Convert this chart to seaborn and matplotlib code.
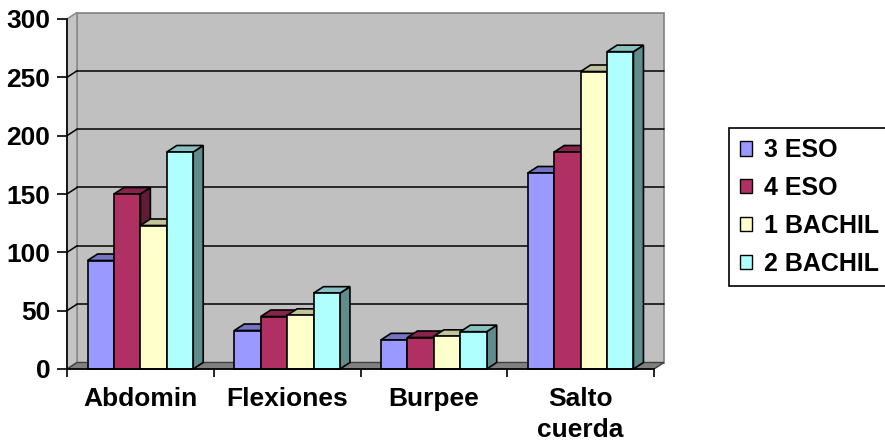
import matplotlib
matplotlib.use("Agg")
import matplotlib.pyplot as plt
import seaborn as sns
import pandas as pd
import numpy as np
from matplotlib.patches import Polygon, Patch, Rectangle

# Test results per course
categories = ["Abdomin", "Flexiones", "Burpee", "Salto\ncuerda"]
groups = ["3 ESO", "4 ESO", "1 BACHIL", "2 BACHIL"]
eso3 = [93, 33, 25, 168]
eso4 = [150, 45, 27, 186]
bach1 = [123, 46, 28, 255]
bach2 = [186, 65, 32, 272]
y_ticks = [0, 50, 100, 150, 200, 250, 300]
colors = ["#9999FF", "#B03064", "#FFFFCC", "#B0FFFF"]

df = pd.DataFrame({
    "prueba": categories * 4,
    "curso": np.repeat(groups, len(categories)),
    "valor": eso3 + eso4 + bach1 + bach2,
})

sns.set_theme(style="white")
plt.rcParams["font.family"] = ["Liberation Sans", "DejaVu Sans"]
plt.rcParams["font.weight"] = "bold"

W, H = 885, 443
fig = plt.figure(figsize=(W / 100, H / 100), dpi=100)
left, right, bottom, top = 67 / W, 654 / W, (H - 369) / H, (H - 19) / H
ax = fig.add_axes([left, bottom, right - left, top - bottom])

sns.barplot(data=df, x="prueba", y="valor", hue="curso", order=categories,
            hue_order=groups, palette=colors, saturation=1, width=0.72,
            edgecolor="black", linewidth=1.2, ax=ax, legend=False)

ax.set_xlim(-0.5, 3.5)
ax.set_ylim(0, 300)
ax.set_facecolor("none")
ax.set_xlabel("")
ax.set_ylabel("")

# depth of the 3-D box, in data units
ax_w_px = (right - left) * W
ax_h_px = (top - bottom) * H
dx = 10 / (ax_w_px / 4.0)
dy = 6.5 / (ax_h_px / 300.0)
x0, x1 = -0.5, 3.5

# walls and floor
back = Polygon([(x0 + dx, dy), (x1 + dx, dy), (x1 + dx, 300 + dy), (x0 + dx, 300 + dy)],
               closed=True, facecolor="#C0C0C0", edgecolor="#808080", lw=1.2,
               zorder=0.5, clip_on=False)
side_wall = Polygon([(x0, 0), (x0 + dx, dy), (x0 + dx, 300 + dy), (x0, 300)],
                    closed=True, facecolor="#C4C4C4", edgecolor="#8C8C8C", lw=1.2,
                    zorder=0.6, clip_on=False)
floor = Polygon([(x0, 0), (x1, 0), (x1 + dx, dy), (x0 + dx, dy)],
                closed=True, facecolor="#808080", edgecolor="#404040", lw=1.0,
                zorder=0.7, clip_on=False)
for p in (back, side_wall, floor):
    ax.add_patch(p)

# gridlines on back wall and left wall
for v in y_ticks[1:-1]:
    ax.plot([x0 + dx, x1 + dx], [v + dy, v + dy], color="black", lw=1.1,
            zorder=0.8, clip_on=False)
    ax.plot([x0, x0 + dx], [v, v + dy], color="black", lw=1.1,
            zorder=0.8, clip_on=False)


def shade(c, f):
    return tuple(min(1, max(0, ch * f)) for ch in c[:3])


bars = sorted([p for p in ax.patches if isinstance(p, Rectangle) and p.get_height() > 0
               and p.get_width() < 0.5], key=lambda p: p.get_x())
for k, p in enumerate(bars):
    bx, bw, bh = p.get_x(), p.get_width(), p.get_height()
    fc = p.get_facecolor()
    z = 3 + k * 0.01
    top_face = Polygon([(bx, bh), (bx + bw, bh), (bx + bw + dx, bh + dy), (bx + dx, bh + dy)],
                       closed=True, facecolor=shade(fc, 0.76), edgecolor="black",
                       lw=1.2, zorder=z, clip_on=False)
    side_face = Polygon([(bx + bw, 0), (bx + bw, bh), (bx + bw + dx, bh + dy), (bx + bw + dx, dy)],
                        closed=True, facecolor=shade(fc, 0.55), edgecolor="black",
                        lw=1.2, zorder=z, clip_on=False)
    ax.add_patch(side_face)
    ax.add_patch(top_face)
    p.set_zorder(z + 0.005)
    p.set_clip_on(False)

# axes, ticks and labels
for s in ("top", "right"):
    ax.spines[s].set_visible(False)
for s in ("left", "bottom"):
    ax.spines[s].set_color("black")
    ax.spines[s].set_linewidth(1.2)
    ax.spines[s].set_zorder(10)

ax.set_yticks(y_ticks)
ax.set_yticklabels([str(v) for v in y_ticks], fontsize=19, fontweight="bold")
ax.tick_params(axis="y", left=True, length=7, width=1.2, color="black",
               labelcolor="black", pad=5, direction="out")

ax.set_xticks(range(len(categories)))
ax.set_xticklabels(categories, fontsize=19, fontweight="bold", linespacing=1.35)
ax.tick_params(axis="x", which="major", length=0, labelcolor="black", pad=13)
ax.set_xticks([-0.5, 0.5, 1.5, 2.5, 3.5], minor=True)
ax.tick_params(axis="x", which="minor", bottom=True, length=6, width=1.2,
               color="black", direction="out")

handles = [Patch(facecolor=c, edgecolor="black", linewidth=1.0) for c in colors]
leg = fig.legend(handles=handles, labels=groups, loc="upper left",
                 bbox_to_anchor=(729 / W, 1 - 128 / H), frameon=True, fancybox=False,
                 edgecolor="black", framealpha=1, prop={"weight": "bold", "size": 18},
                 handlelength=0.5, handleheight=0.5, handletextpad=0.5,
                 labelspacing=0.55, borderpad=0.42, borderaxespad=0)
leg.get_frame().set_linewidth(1.2)
for t in leg.get_texts():
    t.set_color("black")

fig.savefig("out.png", dpi=100, facecolor="white")
